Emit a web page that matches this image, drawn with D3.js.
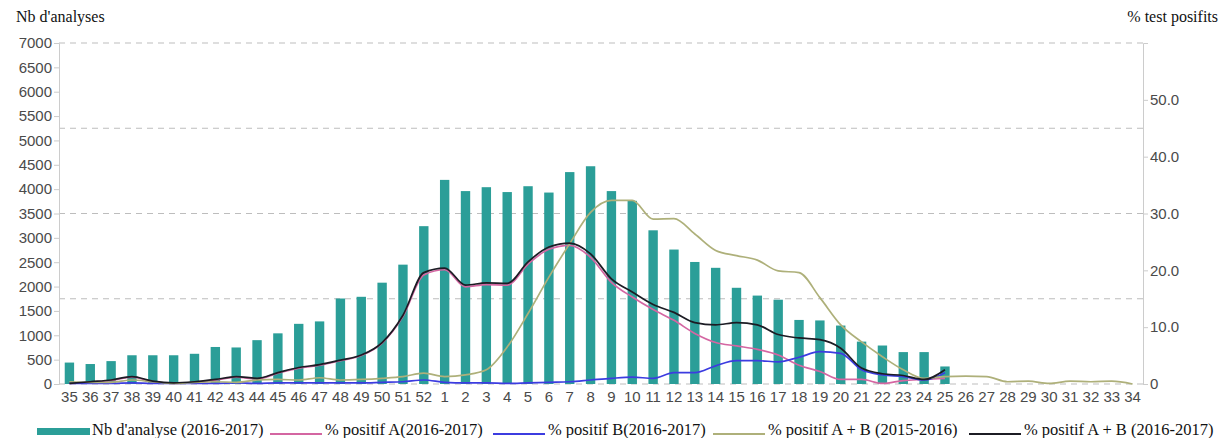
<!DOCTYPE html>
<html>
<head>
<meta charset="utf-8">
<script src="https://cdn.jsdelivr.net/npm/d3@7"></script>
<style>
  body { margin: 0; background: #fff; }
  .tick text { font-family: "Liberation Sans", Arial, sans-serif; font-size: 15px; fill: #4a4a4a; }
  .serif { font-family: "Liberation Serif", "Times New Roman", serif; fill: #111; }
</style>
</head>
<body>
<svg id="chart"></svg>
<script>
const weeks = ["35","36","37","38","39","40","41","42","43","44","45","46","47","48","49","50","51","52",
  "1","2","3","4","5","6","7","8","9","10","11","12","13","14","15","16","17","18","19","20",
  "21","22","23","24","25","26","27","28","29","30","31","32","33","34"];

// Nb d'analyse (2016-2017)
const nbAnalyses = [440,410,470,590,590,590,620,760,750,900,1040,1235,1285,1755,1790,2080,2450,3240,
  4190,3960,4040,3940,4060,3930,4350,4470,3960,3760,3155,2760,2505,2385,1975,1815,1730,1315,1305,1200,
  870,790,655,655,360,null,null,null,null,null,null,null,null,null];

// % positif A (2016-2017)
const posA = [0.1,0.3,0.6,1.2,0.4,0.1,0.3,0.7,1.2,0.9,1.9,2.8,3.3,4.1,5.0,7.2,11.9,19.2,
  20.1,17.1,17.5,17.4,21.1,23.7,24.4,22.3,17.9,15.3,13.1,11.2,8.9,7.3,6.7,6.1,5.1,3.3,2.2,0.8,
  0.8,0.1,0.6,0.8,1.0,null,null,null,null,null,null,null,null,null];

// % positif B (2016-2017)
const posB = [0.1,0.1,0.1,0.2,0.1,0.1,0.1,0.1,0.2,0.1,0.2,0.2,0.2,0.2,0.2,0.3,0.4,0.7,
  0.3,0.2,0.2,0.1,0.2,0.3,0.4,0.7,1.0,1.2,1.0,2.0,2.0,3.2,4.1,4.1,3.9,4.7,5.7,5.4,
  2.5,1.6,1.3,0.7,2.0,null,null,null,null,null,null,null,null,null];

// % positif A + B (2015-2016)
const posAB1516 = [0.4,0.3,0.3,0.7,0.4,0.1,0.3,0.4,0.3,0.7,0.8,0.7,1.1,0.7,0.8,1.0,1.3,1.9,
  1.3,1.6,2.5,6.5,12.4,18.8,24.7,30.2,32.3,32.3,29.0,29.1,26.4,23.5,22.6,21.8,19.9,19.6,15.2,10.4,
  7.4,4.8,2.5,1.0,1.3,1.4,1.3,0.4,0.5,0.1,0.5,0.4,0.5,0.0];

// % positif A + B (2016-2017)
const posAB1617 = [0.1,0.4,0.7,1.3,0.5,0.2,0.4,0.8,1.3,1.0,2.0,2.9,3.4,4.2,5.1,7.3,12.1,19.6,
  20.4,17.4,17.8,17.7,21.5,24.1,24.8,22.9,18.5,16.2,14.0,12.6,10.8,10.4,10.8,10.4,8.7,8.1,7.8,6.3,
  2.8,1.8,1.5,0.8,2.5,null,null,null,null,null,null,null,null,null];

const leftTicks = [0,500,1000,1500,2000,2500,3000,3500,4000,4500,5000,5500,6000,6500,7000];
const rightTicks = [0,10,20,30,40,50];
const gridTicks = [0,15,30,45,60];

const series = [
  { label: "% positif A(2016-2017)", values: posA, color: "#d466a2" },
  { label: "% positif B(2016-2017)", values: posB, color: "#3c3ce0" },
  { label: "% positif A + B (2015-2016)", values: posAB1516, color: "#aeb07a" },
  { label: "% positif A + B (2016-2017)", values: posAB1617, color: "#1c1c24" }
];

const width = 1220;
const height = 438;
const margin = { top: 43, right: 77, bottom: 54, left: 59 };
const barColor = "#2b9e98";

const svg = d3.select("#chart").attr("width", width).attr("height", height);

const x = d3.scaleBand()
  .domain(weeks)
  .range([margin.left, width - margin.right])
  .paddingInner(0.55)
  .paddingOuter(0.275);

const y = d3.scaleLinear().domain([0, 7000]).range([height - margin.bottom, margin.top]);
const y2 = d3.scaleLinear().domain([0, 60]).range([height - margin.bottom, margin.top]);

// dashed grid
svg.append("g")
  .selectAll("line")
  .data(gridTicks)
  .enter()
  .append("line")
  .attr("x1", margin.left)
  .attr("x2", width - margin.right)
  .attr("y1", (d) => y2(d))
  .attr("y2", (d) => y2(d))
  .attr("stroke", "#bdbdbd")
  .attr("stroke-dasharray", "6,5");

// left axis
const gLeft = svg.append("g")
  .attr("transform", `translate(${margin.left},0)`)
  .call(d3.axisLeft(y).tickValues(leftTicks).tickSize(5).tickPadding(2).tickFormat(d3.format("d")));
gLeft.select(".domain").attr("stroke", "#ccc");
gLeft.selectAll(".tick line").attr("stroke", "#ccc");

// right axis
const gRight = svg.append("g")
  .attr("transform", `translate(${width - margin.right},0)`)
  .call(d3.axisRight(y2).tickValues(rightTicks).tickSize(5).tickPadding(2)
    .tickFormat((d) => d === 0 ? "0" : d3.format(".1f")(d)));
gRight.select(".domain").attr("stroke", "#ccc");
gRight.selectAll(".tick line").attr("stroke", "#ccc");

// x axis labels
const gX = svg.append("g")
  .attr("transform", `translate(0,${height - margin.bottom})`)
  .call(d3.axisBottom(x).tickSize(0).tickPadding(7));
gX.select(".domain").remove();

// Bars
svg.append("g")
  .selectAll("rect")
  .data(weeks.map((w, i) => ({ week: w, value: nbAnalyses[i] })).filter((d) => d.value != null))
  .enter()
  .append("rect")
  .attr("x", (d) => x(d.week))
  .attr("y", (d) => y(d.value))
  .attr("width", x.bandwidth())
  .attr("height", (d) => y(0) - y(d.value))
  .attr("fill", barColor);

// Lines
const line = d3.line()
  .defined((d) => d.value != null)
  .x((d) => x(d.week) + x.bandwidth() / 2)
  .y((d) => y2(d.value))
  .curve(d3.curveMonotoneX);

series.forEach((s) => {
  svg.append("path")
    .datum(weeks.map((w, i) => ({ week: w, value: s.values[i] })))
    .attr("fill", "none")
    .attr("stroke", s.color)
    .attr("stroke-width", 1.7)
    .attr("d", line);
});

// axis titles
svg.append("text").attr("class", "serif")
  .attr("x", 16).attr("y", 22)
  .style("font-size", "16px")
  .text("Nb d'analyses");

svg.append("text").attr("class", "serif")
  .attr("x", 1218).attr("y", 22)
  .attr("text-anchor", "end")
  .style("font-size", "16px")
  .text("% test posifits");

// Legend
const legendItems = [{ label: "Nb d'analyse (2016-2017)", color: barColor, bar: true }]
  .concat(series.map((s) => ({ label: s.label, color: s.color, bar: false })));
const legendX = [37, 270, 493, 713, 969];
const legendY = 435;

legendItems.forEach((item, i) => {
  const g = svg.append("g").attr("transform", `translate(${legendX[i]},${legendY})`);
  if (item.bar) {
    g.append("rect").attr("x", 0).attr("y", -7).attr("width", 53).attr("height", 7).attr("fill", item.color);
  } else {
    g.append("line").attr("x1", 0).attr("x2", 52).attr("y1", -1).attr("y2", -1)
      .attr("stroke", item.color).attr("stroke-width", 2.2);
  }
  g.append("text").attr("class", "serif")
    .attr("x", 55).attr("y", 0)
    .style("font-size", "16.5px")
    .text(item.label);
});
</script>
</body>
</html>
